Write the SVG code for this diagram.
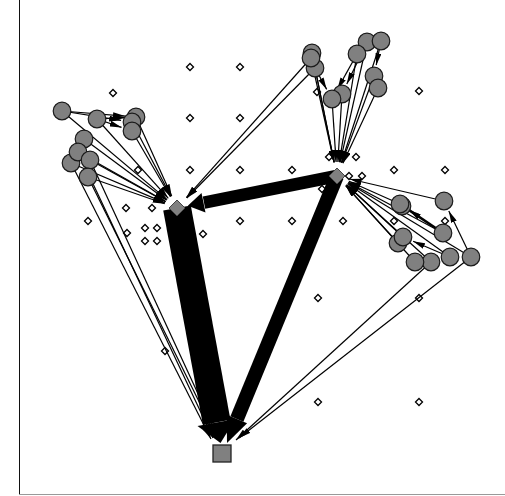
<svg xmlns="http://www.w3.org/2000/svg" xmlns:xlink="http://www.w3.org/1999/xlink" width="505" height="496" viewBox="0 0 505 496">
<style>
.c{fill:#808080;stroke:#1a1a1a;stroke-width:1.2}
.hub{fill:#808080;stroke:#444;stroke-width:1}
.sd{fill:#fff;stroke:#000;stroke-width:1.3}
.e{stroke:#000;stroke-width:1.2;fill:none;marker-end:url(#ah)}
.t{stroke:#000;fill:none}
.h{fill:#000;stroke:none}
</style>
<defs>
<marker id="ah" viewBox="0 0 12 6" refX="12" refY="3" markerWidth="12" markerHeight="6" markerUnits="userSpaceOnUse" orient="auto"><path d="M0,0 L12,3 L0,6 z" fill="#000"/></marker>
<path id="sdp" d="M0,-3.5 L3.5,0 L0,3.5 L-3.5,0 Z"/>
</defs>
<rect x="0" y="0" width="505" height="496" fill="#fff"/>
<line x1="19.5" y1="0" x2="19.5" y2="494.5" stroke="#111" stroke-width="1"/>
<line x1="19" y1="494.5" x2="505" y2="494.5" stroke="#999" stroke-width="1"/>

<g id="grid-points">
<g id="s1"><use href="#sdp" class="sd" x="190" y="67"/></g>
<g id="s2"><use href="#sdp" class="sd" x="240" y="67"/></g>
<g id="s3"><use href="#sdp" class="sd" x="113" y="93"/></g>
<g id="s4"><use href="#sdp" class="sd" x="190" y="118"/></g>
<g id="s5"><use href="#sdp" class="sd" x="240" y="118"/></g>
<g id="s6"><use href="#sdp" class="sd" x="419" y="91"/></g>
<g id="s7"><use href="#sdp" class="sd" x="317" y="92"/></g>
<g id="s8"><use href="#sdp" class="sd" x="138" y="170"/></g>
<g id="s9"><use href="#sdp" class="sd" x="190" y="170"/></g>
<g id="s10"><use href="#sdp" class="sd" x="240" y="170"/></g>
<g id="s11"><use href="#sdp" class="sd" x="292" y="170"/></g>
<g id="s12"><use href="#sdp" class="sd" x="329" y="157"/></g>
<g id="s13"><use href="#sdp" class="sd" x="356" y="157"/></g>
<g id="s14"><use href="#sdp" class="sd" x="394" y="170"/></g>
<g id="s15"><use href="#sdp" class="sd" x="445" y="170"/></g>
<g id="s16"><use href="#sdp" class="sd" x="349" y="176"/></g>
<g id="s17"><use href="#sdp" class="sd" x="362" y="176"/></g>
<g id="s18"><use href="#sdp" class="sd" x="322" y="189"/></g>
<g id="s19"><use href="#sdp" class="sd" x="126" y="208"/></g>
<g id="s20"><use href="#sdp" class="sd" x="152" y="208"/></g>
<g id="s21"><use href="#sdp" class="sd" x="88" y="221"/></g>
<g id="s22"><use href="#sdp" class="sd" x="145" y="228"/></g>
<g id="s23"><use href="#sdp" class="sd" x="157" y="228"/></g>
<g id="s24"><use href="#sdp" class="sd" x="127" y="233"/></g>
<g id="s25"><use href="#sdp" class="sd" x="145" y="241"/></g>
<g id="s26"><use href="#sdp" class="sd" x="157" y="241"/></g>
<g id="s27"><use href="#sdp" class="sd" x="203" y="234"/></g>
<g id="s28"><use href="#sdp" class="sd" x="240" y="221"/></g>
<g id="s29"><use href="#sdp" class="sd" x="292" y="221"/></g>
<g id="s30"><use href="#sdp" class="sd" x="343" y="221"/></g>
<g id="s31"><use href="#sdp" class="sd" x="394" y="221"/></g>
<g id="s32"><use href="#sdp" class="sd" x="445" y="221"/></g>
<g id="s33"><use href="#sdp" class="sd" x="318" y="298"/></g>
<g id="s34"><use href="#sdp" class="sd" x="419" y="298"/></g>
<g id="s35"><use href="#sdp" class="sd" x="165" y="351"/></g>
<g id="s36"><use href="#sdp" class="sd" x="318" y="402"/></g>
<g id="s37"><use href="#sdp" class="sd" x="419" y="402"/></g>
</g>

<g id="connectors">
<!-- thick flows -->
<line class="t" x1="177" y1="208" x2="216.7" y2="422.4" stroke-width="28"/>
<polygon class="h" points="220.5,443 235.4,418.9 197.5,426"/>
<line class="t" x1="337" y1="176" x2="236.9" y2="419" stroke-width="14"/>
<polygon class="h" points="227,443 247.1,423.2 226.7,414.8"/>
<line class="t" x1="337" y1="176" x2="204" y2="202.6" stroke-width="12.5"/>
<polygon class="h" points="187.8,205.8 205.5,212.5 201.5,192.9"/>
<!-- left cluster to hub 1 -->
<line class="e" x1="62" y1="111" x2="167.1" y2="199.6"/>
<line class="e" x1="97" y1="119" x2="168.3" y2="198.3"/>
<line class="e" x1="136" y1="117" x2="171.7" y2="196.1"/>
<line class="e" x1="132" y1="122" x2="171" y2="196.5"/>
<line class="e" x1="132" y1="131" x2="170.4" y2="196.8"/>
<line class="e" x1="84" y1="139" x2="166.6" y2="200.3"/>
<line class="e" x1="78" y1="152" x2="165.7" y2="201.6"/>
<line class="e" x1="71" y1="163" x2="165" y2="202.9"/>
<line class="e" x1="90" y1="160" x2="165.6" y2="201.7"/>
<line class="e" x1="88" y1="177" x2="164.7" y2="203.7"/>
<!-- left internal -->
<line class="e" x1="62" y1="111" x2="125" y2="116.1"/>
<line class="e" x1="62" y1="111" x2="121.1" y2="120.3"/>
<line class="e" x1="97" y1="119" x2="125" y2="117.6"/>
<line class="e" x1="97" y1="119" x2="121.6" y2="127.4"/>
<!-- left to sink -->
<line class="e" x1="71" y1="163" x2="211" y2="439"/>
<line class="e" x1="78" y1="152" x2="213" y2="438"/>
<line class="e" x1="88" y1="177" x2="216" y2="436"/>
<line class="e" x1="90" y1="160" x2="218" y2="437"/>
<!-- top cluster to hub 2 -->
<line class="e" x1="312" y1="53" x2="334.2" y2="162.3"/>
<line class="e" x1="311" y1="58" x2="334" y2="162.3"/>
<line class="e" x1="315" y1="68" x2="334.2" y2="162.3"/>
<line class="e" x1="357" y1="54" x2="339.3" y2="162.2"/>
<line class="e" x1="367" y1="42" x2="340.1" y2="162.3"/>
<line class="e" x1="381" y1="41" x2="341.3" y2="162.7"/>
<line class="e" x1="374" y1="76" x2="341.9" y2="162.9"/>
<line class="e" x1="378" y1="88" x2="342.9" y2="163.3"/>
<line class="e" x1="332" y1="99" x2="336.1" y2="162"/>
<line class="e" x1="342" y1="94" x2="337.9" y2="162"/>
<!-- top internal -->
<line class="e" x1="315" y1="68" x2="326.7" y2="89.4"/>
<line class="e" x1="357" y1="54" x2="337.3" y2="89.4"/>
<line class="e" x1="367" y1="42" x2="346.8" y2="84.1"/>
<line class="e" x1="381" y1="41" x2="376.2" y2="65.2"/>
<!-- top to hub 1 -->
<line class="e" x1="311" y1="58" x2="186.3" y2="197.6"/>
<line class="e" x1="315" y1="68" x2="186.8" y2="198"/>
<!-- right cluster to hub 2 -->
<line class="e" x1="400" y1="204" x2="348.9" y2="181.3"/>
<line class="e" x1="444" y1="201" x2="349.7" y2="179"/>
<line class="e" x1="443" y1="233" x2="348.4" y2="182.2"/>
<line class="e" x1="403" y1="237" x2="346.5" y2="184.8"/>
<line class="e" x1="398" y1="243" x2="345.7" y2="185.6"/>
<line class="e" x1="415" y1="262" x2="345.7" y2="185.6"/>
<line class="e" x1="431" y1="262" x2="346.6" y2="184.8"/>
<line class="e" x1="450" y1="257" x2="347.6" y2="183.6"/>
<line class="e" x1="471" y1="257" x2="348.1" y2="182.7"/>
<!-- right internal -->
<line class="e" x1="443" y1="233" x2="409.1" y2="210.1" style="stroke-width:2.5"/>
<line class="e" x1="450" y1="257" x2="413.1" y2="241.3"/>
<line class="e" x1="471" y1="257" x2="448.8" y2="210.9"/>
<!-- right to sink -->
<line class="e" x1="431" y1="262" x2="236" y2="440"/>
<line class="e" x1="471" y1="257" x2="239" y2="438"/>
</g>

<g id="left-cluster">
<g id="nA"><circle class="c" cx="62" cy="111" r="8.8"/></g>
<g id="nB"><circle class="c" cx="97" cy="119" r="8.8"/></g>
<g id="nC"><circle class="c" cx="136" cy="117" r="8.8"/></g>
<g id="nD"><circle class="c" cx="132" cy="122" r="8.8"/></g>
<g id="nE"><circle class="c" cx="132" cy="131" r="8.8"/></g>
<g id="nF"><circle class="c" cx="84" cy="139" r="8.8"/></g>
<g id="nH"><circle class="c" cx="71" cy="163" r="8.8"/></g>
<g id="nG"><circle class="c" cx="78" cy="152" r="8.8"/></g>
<g id="nI"><circle class="c" cx="90" cy="160" r="8.8"/></g>
<g id="nJ"><circle class="c" cx="88" cy="177" r="8.8"/></g>
</g>
<g id="top-cluster">
<g id="nP2"><circle class="c" cx="315" cy="68" r="8.8"/></g>
<g id="nP1a"><circle class="c" cx="312" cy="53" r="8.8"/></g>
<g id="nP1b"><circle class="c" cx="311" cy="58" r="8.8"/></g>
<g id="nP4"><circle class="c" cx="367" cy="42" r="8.8"/></g>
<g id="nP5"><circle class="c" cx="381" cy="41" r="8.8"/></g>
<g id="nP3"><circle class="c" cx="357" cy="54" r="8.8"/></g>
<g id="nP6"><circle class="c" cx="374" cy="76" r="8.8"/></g>
<g id="nP7"><circle class="c" cx="378" cy="88" r="8.8"/></g>
<g id="nP9"><circle class="c" cx="342" cy="94" r="8.8"/></g>
<g id="nP8"><circle class="c" cx="332" cy="99" r="8.8"/></g>
</g>
<g id="right-cluster">
<g id="nR1b"><circle class="c" cx="402" cy="206" r="8.8"/></g>
<g id="nR1"><circle class="c" cx="400" cy="204" r="8.8"/></g>
<g id="nR2"><circle class="c" cx="444" cy="201" r="8.8"/></g>
<g id="nR3"><circle class="c" cx="443" cy="233" r="8.8"/></g>
<g id="nR4b"><circle class="c" cx="398" cy="243" r="8.8"/></g>
<g id="nR4"><circle class="c" cx="403" cy="237" r="8.8"/></g>
<g id="nR6"><circle class="c" cx="431" cy="262" r="8.8"/></g>
<g id="nR5"><circle class="c" cx="415" cy="262" r="8.8"/></g>
<g id="nR7"><circle class="c" cx="450" cy="257" r="8.8"/></g>
<g id="nR8"><circle class="c" cx="471" cy="257" r="8.8"/></g>
</g>
<g id="hub1"><path class="hub" d="M177,200 L185,208 L177,216 L169,208 Z"/></g>
<g id="hub2"><path class="hub" d="M337,168 L345,176 L337,184 L329,176 Z"/></g>
<g id="sink"><rect class="hub" x="213" y="445" width="18" height="17" style="stroke:#222;stroke-width:1.3"/></g>
</svg>
